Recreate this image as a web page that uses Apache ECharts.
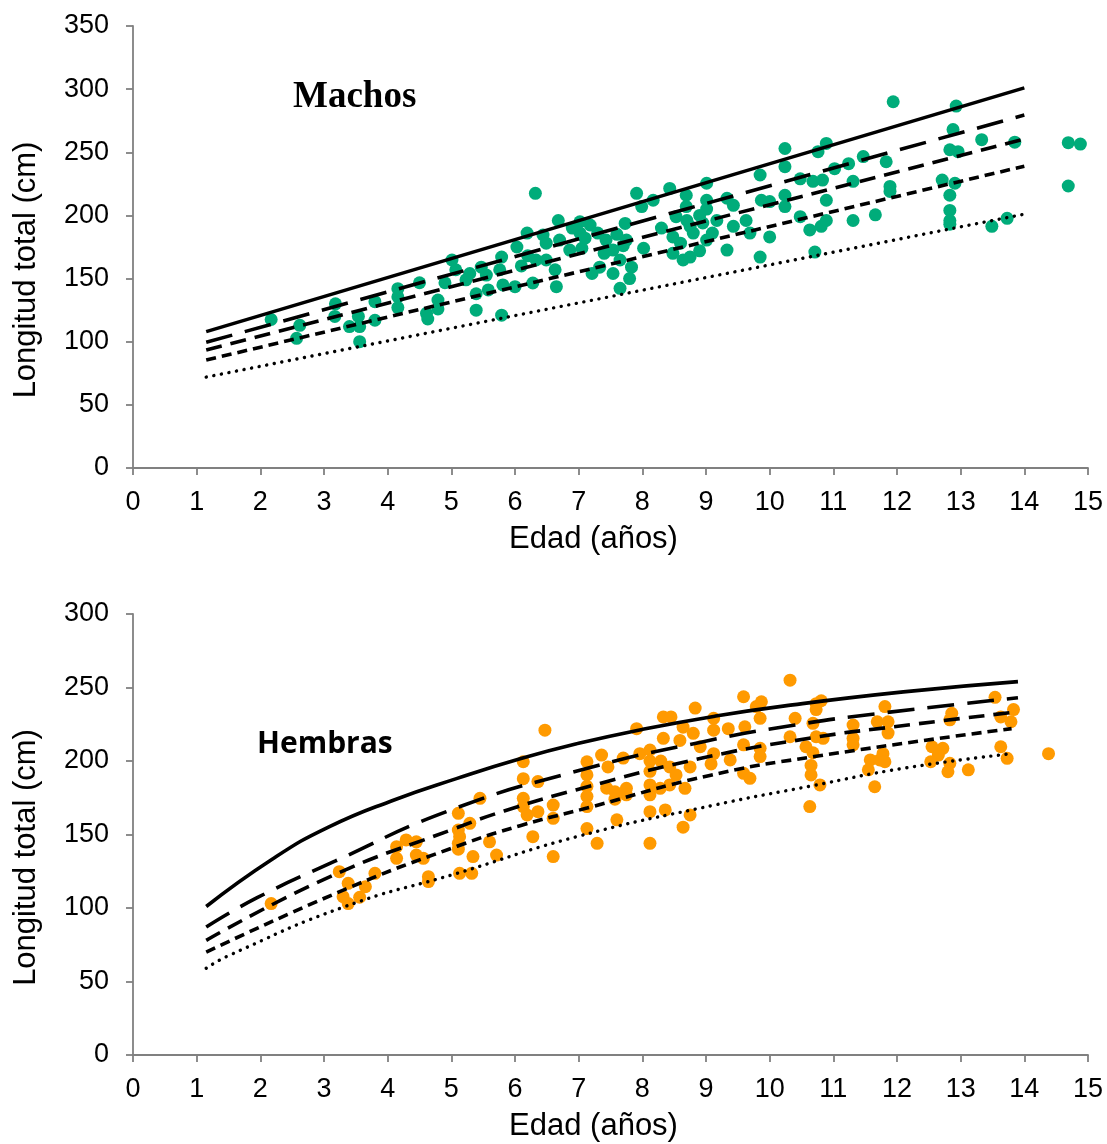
<!DOCTYPE html>
<html><head><meta charset="utf-8">
<script src="https://cdn.jsdelivr.net/npm/echarts@6/dist/echarts.min.js"></script>
<style>html,body{margin:0;padding:0;background:#fff}#c{width:1107px;height:1144px}</style>
</head><body><div id="c"></div>
<script>
// ---- Data ----
const xTickLabels = ['0','1','2','3','4','5','6','7','8','9','10','11','12','13','14','15'];
const titleMachos = 'Machos';
const titleHembras = 'Hembras';
const xName = 'Edad (años)';
const yName = 'Longitud total (cm)';

// Machos: observed [age, length]
const machosPoints = [
[2.17,117.6],[2.62,113],[2.57,102.7],[3.18,130],[3.17,120],[3.40,112],[3.54,120],[3.56,112],[3.56,100],
[3.80,131.7],[3.80,117],[4.16,142],[4.16,135.6],[4.16,127],[4.50,146.7],[4.61,122.5],[4.63,118],[4.79,133],
[4.79,126],[4.90,146.7],[5.01,164.7],[5.07,157],[6.32,217.5],[5.29,154],[5.23,149],[5.47,159],[5.55,152.8],
[5.39,138],[5.39,125],[5.58,141],[5.79,167],[5.76,157],[5.81,145],[5.79,121],[6.03,175],[6.00,143.6],
[6.19,186],[6.28,146.5],[6.33,164.7],[6.49,164.7],[6.44,184.5],[6.49,178],[6.68,196],[6.70,180.5],[6.63,157],
[6.65,143.6],[6.86,172.6],[7.02,195],[7.02,186],[7.05,174],[7.18,192.4],[7.21,154],[7.33,159],[7.43,180.5],
[7.54,172.6],[7.54,154],[7.65,164.7],[7.65,142.3],[7.73,193.7],[7.75,180.5],[7.83,159],[7.80,150],[7.91,217.5],
[7.99,207],[8.17,212],[8.02,174],[8.43,221.4],[8.48,183],[8.53,199],[8.48,170],[8.64,164.7],[8.69,207],
[8.75,191.4],[8.95,194],[9.01,225.5],[9.01,212],[9.01,180.5],[9.17,196],[8.69,216],[9.01,205],[8.75,167],
[9.33,213.6],[9.43,208],[9.33,172.6],[9.43,191.4],[9.63,196],[9.69,186],[9.85,232],[9.87,212],[9.85,167],
[10.0,211],[10.0,183],[10.24,253],[10.24,238.6],[10.24,216],[10.24,207],[10.48,229],[10.48,199],[10.63,188.5],
[10.68,227],[10.71,171],[10.76,250.5],[10.89,257],[10.83,228],[10.89,212],[10.81,191.4],[10.89,196],[11.02,237],
[11.24,241],[11.31,227],[11.47,246.6],[11.31,196],[11.66,200.5],[11.83,242.5],[11.89,223],[11.89,219],
[11.94,290],[12.93,286.6],[12.88,268],[13.33,260],[13.85,258],[12.83,252],[12.96,250.5],[12.71,228],[12.91,225.5],
[12.83,216],[12.83,204],[12.83,196],[12.83,193],[13.49,191.4],[13.73,197.7],[14.69,257.6],[14.88,256.5],[14.69,223.3],
[7.10,182],[7.30,186],[7.60,185],[7.70,176],[8.60,178],[8.80,186],[8.90,200],[8.70,196],[6.10,160],[6.20,168],
[6.90,190],[7.40,170],[8.30,190],[8.90,172],[9.10,186]
];
// Machos growth lines [age, length]
const machosLine1 = [[1.15,108],[14.0,301]];
const machosLine2 = [[1.15,99.5],[14.0,279.5]];
const machosLine3 = [[1.15,93.5],[14.0,260.5]];
const machosLine4 = [[1.15,85.5],[14.0,239]];
const machosLine5 = [[1.15,72],[14.0,201]];

// Hembras: observed [age, length]
const hembrasPoints = [
[2.17,103],[3.24,124.7],[3.38,116.8],[3.30,107.7],[3.38,103],[3.65,114.5],[3.56,107.3],[3.80,123.6],
[4.14,141.7],[4.14,133.8],[4.29,146.3],[4.45,145],[4.45,136],[4.56,133.8],[4.64,121.3],[4.64,118],
[5.11,164.4],[5.11,153],[5.11,144],[5.13,123.6],[5.11,140],[5.29,157.6],[5.13,148.5],[5.34,135],[5.45,174.6],
[5.60,145],[5.71,136],[5.32,123.6],[6.13,199.5],[6.13,188],[6.13,174.6],[6.13,169],[6.19,163.3],[6.36,186],
[6.36,165.5],[6.28,148.5],[6.47,221],[6.60,170],[6.60,161],[6.60,135],[7.13,199.5],[7.13,190.5],[7.13,182.8],
[7.13,176],[7.13,169],[7.13,154],[7.29,144],[7.36,204],[7.46,196],[7.44,181.5],[7.57,179],[7.57,174],[7.60,160],
[7.70,202],[7.75,181.4],[7.75,177],[7.91,222],[7.96,205],[8.12,207.5],[8.12,200],[8.12,193],[8.12,183.7],
[8.12,177],[8.12,165.5],[8.12,144],[8.33,230],[8.45,230],[8.33,215.4],[8.29,200],[8.28,181.4],[8.43,196],
[8.43,183.7],[8.36,166.7],[8.59,214],[8.64,223],[8.64,155],[8.67,181.4],[8.53,190.5],[8.75,163.3],[8.83,236],
[8.80,218.8],[8.91,209.7],[9.12,229],[9.12,221],[9.12,205],[9.08,198],[9.35,222],[9.59,243.7],[9.79,237],
[9.87,240.3],[9.85,229],[9.61,223.3],[9.38,200.7],[9.59,211],[9.85,208.6],[9.85,203],[9.59,191.6],[9.69,188.2],
[8.75,196],[10.32,255],[10.40,229],[10.32,216.5],[10.73,239],[10.81,241],[10.73,235],[10.68,225.6],[10.73,216.5],
[10.57,209.7],[10.68,205.6],[10.65,197],[10.65,190.5],[10.79,183.7],[10.63,169],[10.84,215.4],[11.31,224.5],
[11.31,215.4],[11.31,211],[11.58,200.7],[11.55,194],[11.65,182.5],[11.73,200.7],[11.81,237],[11.69,226.7],
[11.86,226.7],[11.86,219],[11.78,205],[11.81,199.5],[12.86,232.4],[12.83,228],[12.55,209.7],[12.72,208.6],
[12.65,204],[12.53,199.5],[12.83,198.4],[12.80,192.7],[13.12,194],[13.54,243.3],[13.83,235],[13.63,230],
[13.79,226.7],[13.63,209.7],[13.73,201.8],[14.38,205]
];
// Hembras growth curves [age, length]
const hembrasLine1 = [[1.15,101],[2.18,133],[3.07,155],[4.1,173.5],[5.08,188],[6.08,201.5],[7.0,212],[8.0,221.5],[9.14,230.5],[10.24,237.5],[12.1,247],[13.9,254]];
const hembrasLine2 = [[1.15,87],[1.95,107],[3.18,132],[4.95,166],[6.96,193],[8.94,213],[10.4,224.5],[11.74,232.5],[13.9,243]];
const hembrasLine3 = [[1.15,78],[3.08,121],[5.05,154],[5.83,166],[6.97,180.5],[8.94,202],[10.7,216],[11.84,222.7],[13.9,233.5]];
const hembrasLine4 = [[1.15,70],[3.35,113],[5.09,142],[6.08,156],[7.13,168],[9.04,190],[10.7,203],[13.8,222]];
const hembrasLine5 = [[1.15,59],[1.52,68],[3.33,101],[5.09,123.6],[6.97,148.5],[9.13,170],[10.65,183],[12.1,195],[13.8,205]];

// ---- Styles ----
const FONT = "'Liberation Sans', Arial, sans-serif";
const axisCol = '#808080';
const dashStyles = [
  {type:'solid', width:3.6},
  {type:[27,13], width:3.6},
  {type:[16,9], width:3.6},
  {type:[10,6], width:3.6},
  {type:[0.1,7.6], width:3.4, cap:'round'}
];

function xAxisDef(gi){
  return {
    type:'value', gridIndex:gi, min:0, max:15, interval:1,
    name:xName, nameLocation:'middle', nameGap:56,
    nameTextStyle:{fontSize:31, color:'#000', fontFamily:FONT, padding:[0,34,0,0]},
    axisLine:{show:true, onZero:false, lineStyle:{color:axisCol, width:1.8}},
    axisTick:{show:true, length:7, lineStyle:{color:axisCol, width:1.8}},
    splitLine:{show:false},
    axisLabel:{fontSize:27, color:'#000', fontFamily:FONT, margin:21,
      formatter:(v)=>xTickLabels[Math.round(v)]}
  };
}
function yAxisDef(gi, max){
  return {
    type:'value', gridIndex:gi, min:0, max:max, interval:50,
    name:yName, nameLocation:'middle', nameGap:91,
    nameTextStyle:{fontSize:31, color:'#000', fontFamily:FONT, padding:[0,46,0,0]},
    axisLine:{show:true, lineStyle:{color:axisCol, width:1.8}},
    axisTick:{show:true, length:7, lineStyle:{color:axisCol, width:1.8}},
    splitLine:{show:false},
    axisLabel:{fontSize:27, color:'#000', fontFamily:FONT, margin:24}
  };
}
function lineSeries(data, gi, idx, smooth){
  const s = dashStyles[idx];
  return {
    type:'line', xAxisIndex:gi, yAxisIndex:gi, data:data, showSymbol:false, symbol:'none',
    smooth: smooth ? 0.5 : false, z:5, silent:true,
    lineStyle:Object.assign({color:'#000'}, s)
  };
}

const chart = echarts.init(document.getElementById('c'), null, {renderer:'canvas'});
chart.setOption({
  animation:false,
  backgroundColor:'#fff',
  grid:[
    {left:133, right:19, top:26, height:442, containLabel:false},
    {left:133, right:19, top:614, height:441, containLabel:false}
  ],
  xAxis:[xAxisDef(0), xAxisDef(1)],
  yAxis:[yAxisDef(0,350), yAxisDef(1,300)],
  graphic:[
    {type:'text', x:293, y:97, style:{text:titleMachos, font:"bold 37px 'Liberation Serif', 'Times New Roman', serif", fill:'#000', textVerticalAlign:'middle', verticalAlign:'middle'}},
    {type:'text', x:257, y:744, style:{text:titleHembras, font:"bold 30px 'Open Sans', 'Liberation Sans', sans-serif", fill:'#000', textVerticalAlign:'middle', verticalAlign:'middle'}}
  ],
  series:[
    {type:'scatter', xAxisIndex:0, yAxisIndex:0, data:machosPoints, symbolSize:13, itemStyle:{color:'#00AC7A', opacity:1}, z:2},
    lineSeries(machosLine1,0,0,false),
    lineSeries(machosLine2,0,1,false),
    lineSeries(machosLine3,0,2,false),
    lineSeries(machosLine4,0,3,false),
    lineSeries(machosLine5,0,4,false),
    {type:'scatter', xAxisIndex:1, yAxisIndex:1, data:hembrasPoints, symbolSize:13, itemStyle:{color:'#FF9A00', opacity:1}, z:2},
    lineSeries(hembrasLine1,1,0,true),
    lineSeries(hembrasLine2,1,1,true),
    lineSeries(hembrasLine3,1,2,true),
    lineSeries(hembrasLine4,1,3,true),
    lineSeries(hembrasLine5,1,4,true)
  ]
});
</script>
</body></html>
